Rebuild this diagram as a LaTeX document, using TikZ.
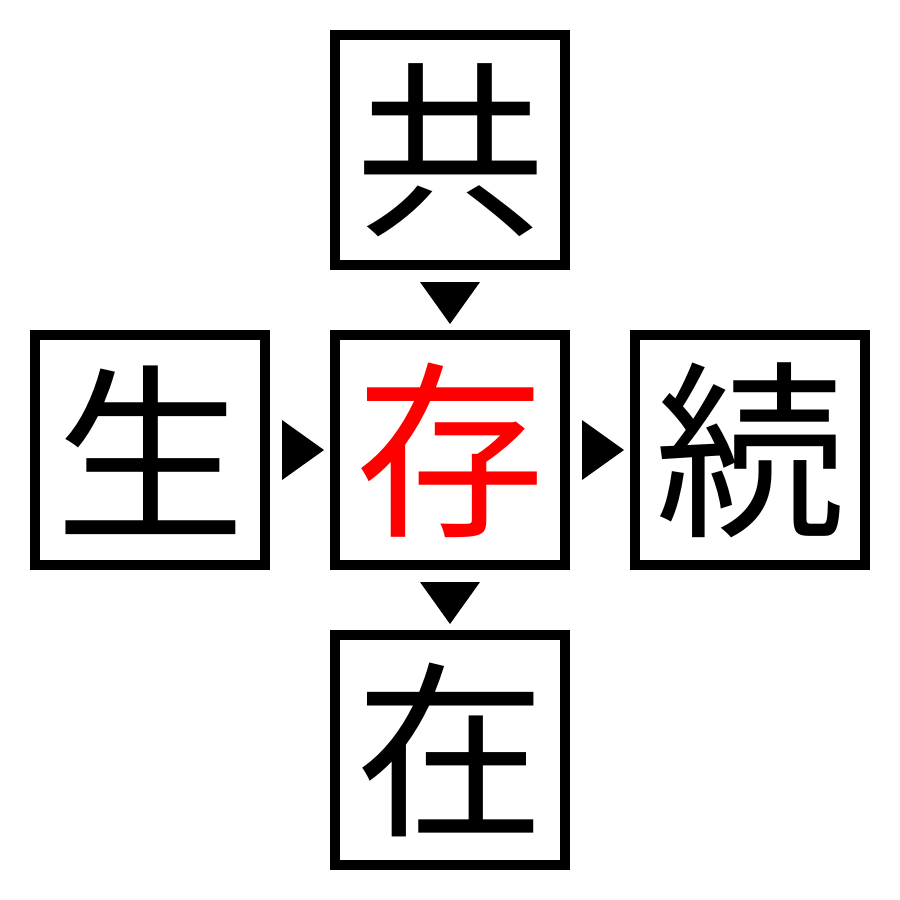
\documentclass[tikz,border=0pt]{standalone}
\usepackage{fontspec}
\newfontfamily\cjk{Noto Sans CJK JP}
\begin{document}
\begin{tikzpicture}[x=1pt,y=-1pt,
  kbox/.style={draw=black,line width=10pt,minimum width=230pt,minimum height=230pt,inner sep=0pt,
    font=\cjk\fontsize{190}{190}\selectfont},
  tri/.style={fill=black,draw=none}]
\useasboundingbox (0,0) rectangle (900,900);
\node[kbox] (top) at (450,150) {共};
\node[kbox] (left) at (150,450) {生};
\node[kbox,text=red] (mid) at (450,450) {存};
\node[kbox] (right) at (750,450) {続};
\node[kbox] (bot) at (450,750) {在};
\fill[tri] (420,282) -- (480,282) -- (450,324) -- cycle;
\fill[tri] (420,582) -- (480,582) -- (450,624) -- cycle;
\fill[tri] (282,420) -- (282,480) -- (324,450) -- cycle;
\fill[tri] (582,420) -- (582,480) -- (624,450) -- cycle;
\end{tikzpicture}
\end{document}
